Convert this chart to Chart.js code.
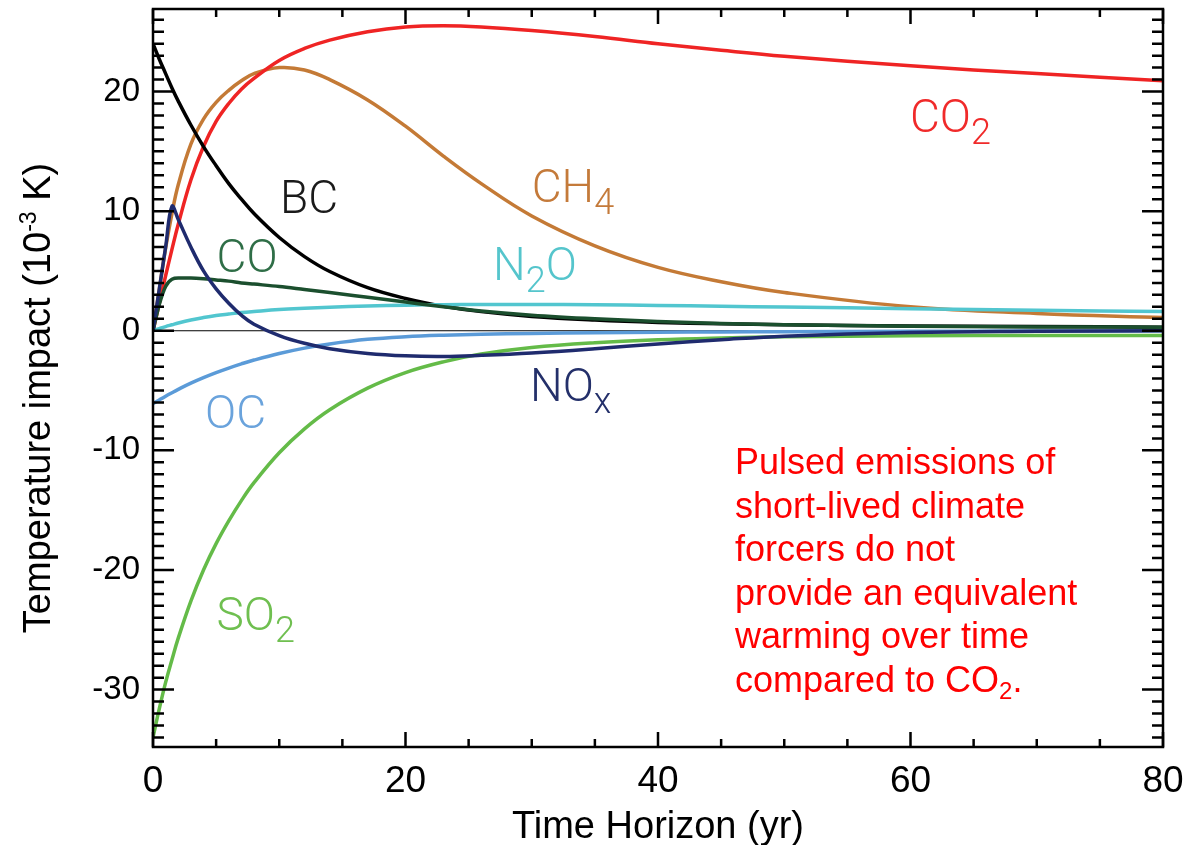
<!DOCTYPE html>
<html>
<head>
<meta charset="utf-8">
<title>Temperature impact of pulsed emissions</title>
<script src="https://cdn.jsdelivr.net/npm/chart.js@4.4.1/dist/chart.umd.min.js"></script>
<style>
  html, body { margin: 0; padding: 0; background: #fff; }
  canvas { display: block; }
</style>
</head>
<body>
<canvas id="impactChart" width="1198" height="845"></canvas>
<script>
'use strict';

// time horizon (yr) and temperature response (10^-3 K) for each species
const years = [0, 0.5, 1, 1.5, 2, 3, 4, 5, 6, 7, 8, 10, 12, 14, 17, 20, 23, 26, 30, 35, 40, 45, 50, 60, 70, 80];
const co2 = [0, 2.3, 4.6, 6.8, 8.9, 12.6, 15.4, 17.5, 19.0, 20.2, 21.1, 22.6, 23.6, 24.3, 25.0, 25.4, 25.5, 25.4, 25.1, 24.6, 24.0, 23.45, 22.95, 22.15, 21.5, 20.9];
const ch4 = [0, 3.5, 6.9, 9.8, 12.2, 15.6, 17.7, 19.1, 20.1, 20.9, 21.5, 22.0, 21.8, 21.0, 19.3, 17.1, 14.6, 12.3, 9.6, 7.1, 5.3, 4.1, 3.2, 2.0, 1.45, 1.1];
const bc = [24.0, 22.7, 21.5, 20.3, 19.2, 17.2, 15.4, 13.8, 12.3, 11.0, 9.8, 7.8, 6.2, 4.95, 3.6, 2.7, 2.05, 1.6, 1.2, 0.9, 0.7, 0.58, 0.5, 0.4, 0.35, 0.3];
const nox = [0, 3.5, 7.0, 10.4, 9.3, 7.0, 5.0, 3.5, 2.3, 1.3, 0.55, -0.4, -1.05, -1.5, -1.9, -2.1, -2.15, -2.05, -1.85, -1.5, -1.1, -0.75, -0.45, -0.15, -0.05, 0.0];
const co = [0, 2.2, 3.7, 4.3, 4.4, 4.4, 4.35, 4.25, 4.15, 4.0, 3.9, 3.7, 3.45, 3.2, 2.8, 2.4, 2.0, 1.65, 1.3, 1.0, 0.78, 0.6, 0.5, 0.38, 0.32, 0.3];
const n2o = [0, 0.18, 0.35, 0.5, 0.65, 0.9, 1.1, 1.27, 1.4, 1.52, 1.61, 1.77, 1.88, 1.97, 2.07, 2.14, 2.18, 2.2, 2.2, 2.17, 2.12, 2.05, 1.98, 1.85, 1.72, 1.6];
const oc = [-6.1, -5.78, -5.47, -5.18, -4.9, -4.38, -3.92, -3.5, -3.12, -2.77, -2.45, -1.9, -1.45, -1.1, -0.72, -0.5, -0.37, -0.29, -0.22, -0.16, -0.12, -0.1, -0.08, -0.05, -0.03, 0.0];
const so2 = [-34.0, -31.6, -29.4, -27.5, -25.7, -22.6, -20.0, -17.8, -15.9, -14.2, -12.7, -10.2, -8.2, -6.6, -4.8, -3.5, -2.6, -1.95, -1.4, -1.0, -0.75, -0.6, -0.5, -0.42, -0.4, -0.4];

const xTickLabels = [0, 20, 40, 60, 80];
const yTickLabels = [-30, -20, -10, 0, 10, 20];

const noteLines = [
    'Pulsed emissions of',
    'short-lived climate',
    'forcers do not',
    'provide an equivalent',
    'warming over time'
];

// first entry ends up on top; CO keeps a monotone curve so its plateau stays flat
const series = [
    { name: 'NOx', values: nox, color: '#1f2b6e' },
    { name: 'CO', values: co, color: '#1b4f2e', monotone: true },
    { name: 'N2O', values: n2o, color: '#52c6cf' },
    { name: 'BC', values: bc, color: '#000000' },
    { name: 'CO2', values: co2, color: '#ef2424' },
    { name: 'CH4', values: ch4, color: '#c47a36' },
    { name: 'OC', values: oc, color: '#5b9bd8' },
    { name: 'SO2', values: so2, color: '#64bb48' }
];

// name tags placed next to the curves (left edge / baseline, in axis units)
const curveLabels = [
    { parts: [['CO'], ['2', 'sub']], t: 59.96, v: 16.6, color: '#f02a2a' },
    { parts: [['CH'], ['4', 'sub']], t: 30.0, v: 10.8, color: '#c47a3a' },
    { parts: [['BC']], t: 10.06, v: 9.87, color: '#1a1a1a' },
    { parts: [['N'], ['2', 'sub'], ['O']], t: 26.93, v: 4.27, color: '#55c5cc' },
    { parts: [['CO']], t: 5.03, v: 4.94, color: '#2f6e47' },
    { parts: [['OC']], t: 4.12, v: -8.12, color: '#6aa3dc' },
    { parts: [['NO'], ['x', 'sub']], t: 29.86, v: -5.86, color: '#24306a' },
    { parts: [['SO'], ['2', 'sub']], t: 5.03, v: -25.02, color: '#6fbf50' }
];

const SANS = '"Liberation Sans", Arial, sans-serif';
const LIGHT = 'Roboto, "Liberation Sans", sans-serif';

function drawParts(ctx, parts, x, y, big, small, drop, weight, family) {
    let cx = x;
    parts.forEach(([text, kind]) => {
        const size = kind ? small : big;
        ctx.font = `${weight} ${size}px ${family}`;
        let dy = 0;
        if (kind === 'sub') dy = drop;
        if (kind === 'sup') dy = -drop;
        ctx.fillText(text, cx, y + dy);
        cx += ctx.measureText(text).width;
    });
    return cx - x;
}

function partsWidth(ctx, parts, big, small, weight, family) {
    let w = 0;
    parts.forEach(([text, kind]) => {
        ctx.font = `${weight} ${kind ? small : big}px ${family}`;
        w += ctx.measureText(text).width;
    });
    return w;
}

const axisFrame = {
    id: 'axisFrame',
    beforeDatasetsDraw(chart) {
        const { ctx, chartArea: a, scales: { y } } = chart;
        const y0 = y.getPixelForValue(0);
        ctx.save();
        ctx.strokeStyle = '#000';
        ctx.lineWidth = 1.2;
        ctx.beginPath();
        ctx.moveTo(a.left, y0);
        ctx.lineTo(a.right, y0);
        ctx.stroke();
        ctx.restore();
    },
    afterDatasetsDraw(chart) {
        const { ctx, chartArea: a, scales: { x, y } } = chart;
        ctx.save();

        // box and inward ticks on all four sides
        ctx.strokeStyle = '#000';
        ctx.lineWidth = 2.5;
        ctx.strokeRect(a.left, a.top, a.right - a.left, a.bottom - a.top);
        ctx.beginPath();
        for (let t = x.min; t <= x.max; t += 5) {
            const px = x.getPixelForValue(t);
            const len = t % 20 === 0 ? 15 : 8;
            ctx.moveTo(px, a.bottom);
            ctx.lineTo(px, a.bottom - len);
            ctx.moveTo(px, a.top);
            ctx.lineTo(px, a.top + len);
        }
        for (let v = Math.ceil(y.min); v <= Math.floor(y.max); v++) {
            const py = y.getPixelForValue(v);
            const len = v % 10 === 0 ? 21 : 11;
            ctx.moveTo(a.left, py);
            ctx.lineTo(a.left + len, py);
            ctx.moveTo(a.right, py);
            ctx.lineTo(a.right - len, py);
        }
        ctx.stroke();

        // curve names
        ctx.textAlign = 'left';
        ctx.textBaseline = 'alphabetic';
        curveLabels.forEach(l => {
            ctx.fillStyle = l.color;
            drawParts(ctx, l.parts, x.getPixelForValue(l.t), y.getPixelForValue(l.v), 46, 36, 12, 300, LIGHT);
        });

        // axis titles
        ctx.fillStyle = '#000';
        ctx.font = `38px ${SANS}`;
        const xTitle = 'Time Horizon (yr)';
        ctx.textAlign = 'center';
        ctx.fillText(xTitle, (a.left + a.right) / 2, 838);

        const yTitle = [['Temperature impact (10'], ['-3', 'sup'], [' K)']];
        ctx.textAlign = 'left';
        const yw = partsWidth(ctx, yTitle, 38, 23, 400, SANS);
        ctx.translate(50, 398);
        ctx.rotate(-Math.PI / 2);
        drawParts(ctx, yTitle, -yw / 2, 0, 38, 23, 14, 400, SANS);
        ctx.restore();

        // red note in the lower right
        ctx.save();
        ctx.fillStyle = '#ff0000';
        ctx.textAlign = 'left';
        const nx = x.getPixelForValue(46.1);
        const ny = y.getPixelForValue(-12.0);
        ctx.font = `36px ${SANS}`;
        noteLines.forEach((line, i) => ctx.fillText(line, nx, ny + i * 43.5));
        drawParts(ctx, [['compared to CO'], ['2', 'sub'], ['.']], nx, ny + noteLines.length * 43.5, 36, 24, 7, 400, SANS);
        ctx.restore();
    }
};

new Chart(document.getElementById('impactChart'), {
    type: 'line',
    data: {
        datasets: series.map(s => ({
            label: s.name,
            data: years.map((t, i) => ({ x: t, y: s.values[i] })),
            borderColor: s.color,
            borderWidth: 3.5,
            pointRadius: 0,
            fill: false,
            tension: 0.4,
            cubicInterpolationMode: s.monotone ? 'monotone' : 'default'
        }))
    },
    options: {
        responsive: false,
        animation: false,
        events: [],
        layout: { padding: { top: 9, right: 35, bottom: 0, left: 0 } },
        plugins: {
            legend: { display: false },
            tooltip: { enabled: false }
        },
        scales: {
            x: {
                type: 'linear',
                min: 0,
                max: 80,
                grid: { display: false, drawTicks: false },
                border: { display: false },
                ticks: {
                    padding: 13,
                    color: '#000',
                    font: { family: SANS, size: 37 },
                    maxRotation: 0
                },
                afterBuildTicks: s => { s.ticks = xTickLabels.map(v => ({ value: v })); },
                afterFit: s => { s.height = 98; s.paddingLeft = 0; s.paddingRight = 0; }
            },
            y: {
                type: 'linear',
                min: -34.8,
                max: 26.9,
                grid: { display: false, drawTicks: false },
                border: { display: false },
                ticks: {
                    padding: 13,
                    color: '#000',
                    font: { family: SANS, size: 33 }
                },
                afterBuildTicks: s => { s.ticks = yTickLabels.map(v => ({ value: v })); },
                afterFit: s => { s.width = 153; s.paddingTop = 0; s.paddingBottom = 0; }
            }
        }
    },
    plugins: [axisFrame]
});
</script>
</body>
</html>
